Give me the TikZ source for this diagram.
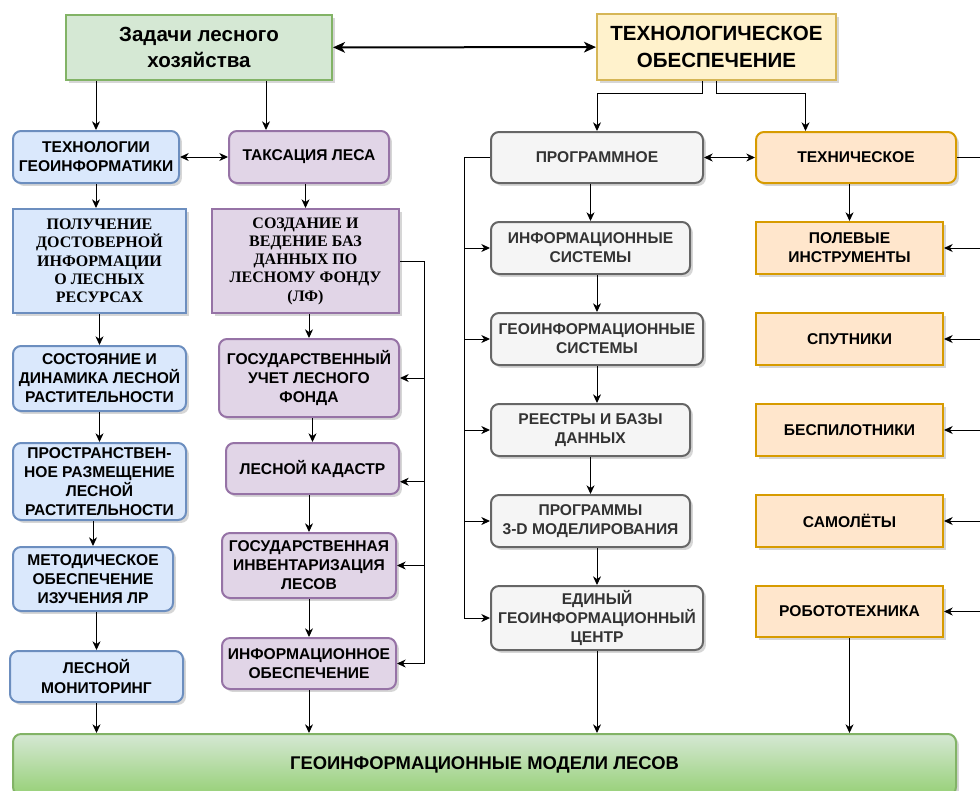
\documentclass[tikz,border=0pt]{standalone}
\usepackage{fontspec}
\setmainfont{Liberation Sans}
\newfontfamily\serifface{Liberation Serif}
\usetikzlibrary{arrows.meta,shadows,calc}

\definecolor{grnF}{HTML}{D5E8D4}
\definecolor{grnD}{HTML}{82B366}
\definecolor{grnB}{HTML}{97D077}
\definecolor{ylwF}{HTML}{FFF2CC}
\definecolor{ylwD}{HTML}{D6B656}
\definecolor{bluF}{HTML}{DAE8FC}
\definecolor{bluD}{HTML}{6C8EBF}
\definecolor{purF}{HTML}{E1D5E7}
\definecolor{purD}{HTML}{9673A6}
\definecolor{gryF}{HTML}{F5F5F5}
\definecolor{gryD}{HTML}{666666}
\definecolor{gryT}{HTML}{333333}
\definecolor{orgF}{HTML}{FFE6CC}
\definecolor{orgD}{HTML}{D79B00}

\tikzset{
  sz/.style 2 args={minimum width=#1*0.75pt, minimum height=#2*0.75pt},
  box/.style={draw, line width=1.5pt, inner sep=0pt, align=center,
    font=\bfseries\fontsize{11.7pt}{14.3pt}\selectfont,
    drop shadow={shadow xshift=2.2pt, shadow yshift=-2.2pt, opacity=0.16, fill=black}},
  rbox/.style={box, rounded corners=6pt},
  titlefont/.style={font=\bfseries\fontsize{15.4pt}{20pt}\selectfont},
  seriffont/.style={font=\serifface\bfseries\fontsize{12pt}{13.7pt}\selectfont},
  greenbox/.style={box, fill=grnF, draw=grnD, titlefont},
  yellowbox/.style={box, fill=ylwF, draw=ylwD, titlefont},
  bluebox/.style={rbox, fill=bluF, draw=bluD},
  bluesq/.style={box, fill=bluF, draw=bluD, seriffont},
  purplebox/.style={rbox, fill=purF, draw=purD},
  purplesq/.style={box, fill=purF, draw=purD, seriffont},
  graybox/.style={rbox, fill=gryF, draw=gryD, text=gryT},
  orangebox/.style={box, fill=orgF, draw=orgD},
  orangeround/.style={rbox, fill=orgF, draw=orgD},
  modelbox/.style={rbox, draw=grnD, top color=grnF, bottom color=grnB,
    font=\bfseries\fontsize{13.8pt}{16pt}\selectfont},
  wire/.style={draw, line width=0.75pt},
  arr/.style={wire, -{Stealth[length=6.5pt, width=6pt, inset=2pt]}},
  bigarr/.style={draw, line width=1.5pt,
    {Stealth[length=9pt, width=8pt, inset=2.5pt]}-{Stealth[length=9pt, width=8pt, inset=2.5pt]}},
  dblarr/.style={wire, {Stealth[length=6.5pt, width=6pt, inset=2pt]}-{Stealth[length=6.5pt, width=6pt, inset=2pt]}}
}

\begin{document}
\begin{tikzpicture}[x=0.75pt, y=-0.75pt]
\clip (0,0) rectangle (980,790);

% top level
\node[greenbox, sz={266}{65}] (zad) at (199,47.5) {Задачи лесного\\хозяйства};
\node[yellowbox, sz={239}{66}] (tech) at (716.5,47) {ТЕХНОЛОГИЧЕСКОЕ\\ОБЕСПЕЧЕНИЕ};

% second row
\node[bluebox, sz={166}{52}] (tg) at (96,157) {ТЕХНОЛОГИИ\\ГЕОИНФОРМАТИКИ};
\node[purplebox, sz={160}{52}] (tax) at (309,157) {ТАКСАЦИЯ ЛЕСА};
\node[graybox, sz={212}{51}] (prog) at (597,157.5) {ПРОГРАММНОЕ};
\node[orangeround, sz={200}{51}] (techn) at (856,157.5) {ТЕХНИЧЕСКОЕ};

% left column
\node[bluesq, sz={173}{104}] (pol) at (99.5,261) {ПОЛУЧЕНИЕ\\ДОСТОВЕРНОЙ\\ИНФОРМАЦИИ\\О ЛЕСНЫХ\\РЕСУРСАХ};
\node[bluebox, sz={173}{65}] (sost) at (99.5,378.5) {СОСТОЯНИЕ И\\ДИНАМИКА ЛЕСНОЙ\\РАСТИТЕЛЬНОСТИ};
\node[bluebox, sz={173}{77}] (prostr) at (99.5,481.5) {ПРОСТРАНСТВЕН-\\НОЕ РАЗМЕЩЕНИЕ\\ЛЕСНОЙ\\РАСТИТЕЛЬНОСТИ};
\node[bluebox, sz={160}{64}] (metod) at (93,579) {МЕТОДИЧЕСКОЕ\\ОБЕСПЕЧЕНИЕ\\ИЗУЧЕНИЯ ЛР};
\node[bluebox, sz={173}{51}] (monit) at (96.5,676.5) {ЛЕСНОЙ\\МОНИТОРИНГ};

% second column
\node[purplesq, sz={187}{104}] (sozd) at (305.5,261) {СОЗДАНИЕ И\\ВЕДЕНИЕ БАЗ\\ДАННЫХ ПО\\ЛЕСНОМУ ФОНДУ\\(ЛФ)};
\node[purplebox, sz={180}{78}] (gos) at (309,378) {ГОСУДАРСТВЕННЫЙ\\УЧЕТ ЛЕСНОГО\\ФОНДА};
\node[purplebox, sz={173}{51}] (kad) at (312.5,468.5) {ЛЕСНОЙ КАДАСТР};
\node[purplebox, sz={174}{65}] (inv) at (309,565.5) {ГОСУДАРСТВЕННАЯ\\ИНВЕНТАРИЗАЦИЯ\\ЛЕСОВ};
\node[purplebox, sz={174}{51}] (info) at (309,663.5) {ИНФОРМАЦИОННОЕ\\ОБЕСПЕЧЕНИЕ};

% software column
\node[graybox, sz={199}{52}] (isys) at (590.5,248) {ИНФОРМАЦИОННЫЕ\\СИСТЕМЫ};
\node[graybox, sz={212}{52}] (geo) at (597,339) {ГЕОИНФОРМАЦИОННЫЕ\\СИСТЕМЫ};
\node[graybox, sz={199}{52}] (reest) at (590.5,430) {РЕЕСТРЫ И БАЗЫ\\ДАННЫХ};
\node[graybox, sz={199}{52}] (prog3d) at (590.5,521) {ПРОГРАММЫ\\3-D МОДЕЛИРОВАНИЯ};
\node[graybox, sz={212}{64}] (edin) at (597,618) {ЕДИНЫЙ\\ГЕОИНФОРМАЦИОННЫЙ\\ЦЕНТР};

% hardware column
\node[orangebox, sz={187}{52}] (polev) at (849.5,248) {ПОЛЕВЫЕ\\ИНСТРУМЕНТЫ};
\node[orangebox, sz={187}{52}] (sput) at (849.5,339) {СПУТНИКИ};
\node[orangebox, sz={187}{52}] (bespil) at (849.5,430) {БЕСПИЛОТНИКИ};
\node[orangebox, sz={187}{52}] (samol) at (849.5,521) {САМОЛЁТЫ};
\node[orangebox, sz={187}{51}] (robot) at (849.5,611.5) {РОБОТОТЕХНИКА};

% result
\node[modelbox, sz={943}{61}] (model) at (484.5,764.5) {ГЕОИНФОРМАЦИОННЫЕ МОДЕЛИ ЛЕСОВ};

% helper points
\coordinate (zt) at ($(zad.south west)!0.75!(zad.south east)$);
\coordinate (t1) at ($(tech.south west)!0.44!(tech.south east)$);
\coordinate (tn) at ($(techn.north west)!0.25!(techn.north east)$);
\coordinate (rb) at (995,157.5);
\coordinate (lb) at (464,618);
\coordinate (pb) at (424,663.5);
\coordinate (kd) at ($(kad.south east)!0.25!(kad.north east)$);

% top connections
\draw[bigarr] (zad) -- (tech);
\draw[arr] (zad.south -| tg) -- (tg.north);
\draw[arr] (zt) -- (zt |- tax.north);
\draw[dblarr] (tg) -- (tax);
\draw[arr] (t1) -- ++(0,12) -| (prog.north);
\draw[arr] (tech.south) -- ++(0,12) -| (tn);
\draw[dblarr] (prog) -- (techn);

% left column chain
\draw[arr] (tg.south) -- (tg.south |- pol.north);
\draw[arr] (pol.south) -- (pol.south |- sost.north);
\draw[arr] (sost.south) -- (sost.south |- prostr.north);
\draw[arr] (prostr.south -| metod) -- (metod.north);
\draw[arr] (metod.south -| monit) -- (monit.north);
\draw[arr] (monit.south) -- (monit.south |- model.north);

% second column chain
\draw[arr] (tax.south -| sozd) -- (sozd.north);
\draw[arr] (sozd.south -| gos) -- (gos.north);
\draw[arr] (gos.south -| kad) -- (kad.north);
\draw[arr] (kad.south -| inv) -- (inv.north);
\draw[arr] (inv.south) -- (inv.south |- info.north);
\draw[arr] (info.south) -- (info.south |- model.north);
\draw[wire] (sozd.east) -| (pb);
\draw[arr] (pb |- gos.east) -- (gos.east);
\draw[arr] (pb |- kd) -- (kd);
\draw[arr] (pb |- inv.east) -- (inv.east);
\draw[arr] (pb) -- (info.east);

% software chain
\draw[arr] (prog.south -| isys) -- (isys.north);
\draw[arr] (isys.south -| geo) -- (geo.north);
\draw[arr] (geo.south) -- (geo.south |- reest.north);
\draw[arr] (reest.south) -- (reest.south |- prog3d.north);
\draw[arr] (prog3d.south -| edin) -- (edin.north);
\draw[arr] (edin.south) -- (edin.south |- model.north);
\draw[wire] (prog.west) -| (lb);
\draw[arr] (lb |- isys.west) -- (isys.west);
\draw[arr] (lb |- geo.west) -- (geo.west);
\draw[arr] (lb |- reest.west) -- (reest.west);
\draw[arr] (lb |- prog3d.west) -- (prog3d.west);
\draw[arr] (lb) -- (edin.west);

% hardware links
\draw[arr] (techn.south -| polev) -- (polev.north);
\draw[wire] (techn.east) -- (rb);
\draw[arr] (rb |- polev.east) -- (polev.east);
\draw[arr] (rb |- sput.east) -- (sput.east);
\draw[arr] (rb |- bespil.east) -- (bespil.east);
\draw[arr] (rb |- samol.east) -- (samol.east);
\draw[arr] (rb |- robot.east) -- (robot.east);
\draw[arr] (robot.south) -- (robot.south |- model.north);
\end{tikzpicture}
\end{document}
